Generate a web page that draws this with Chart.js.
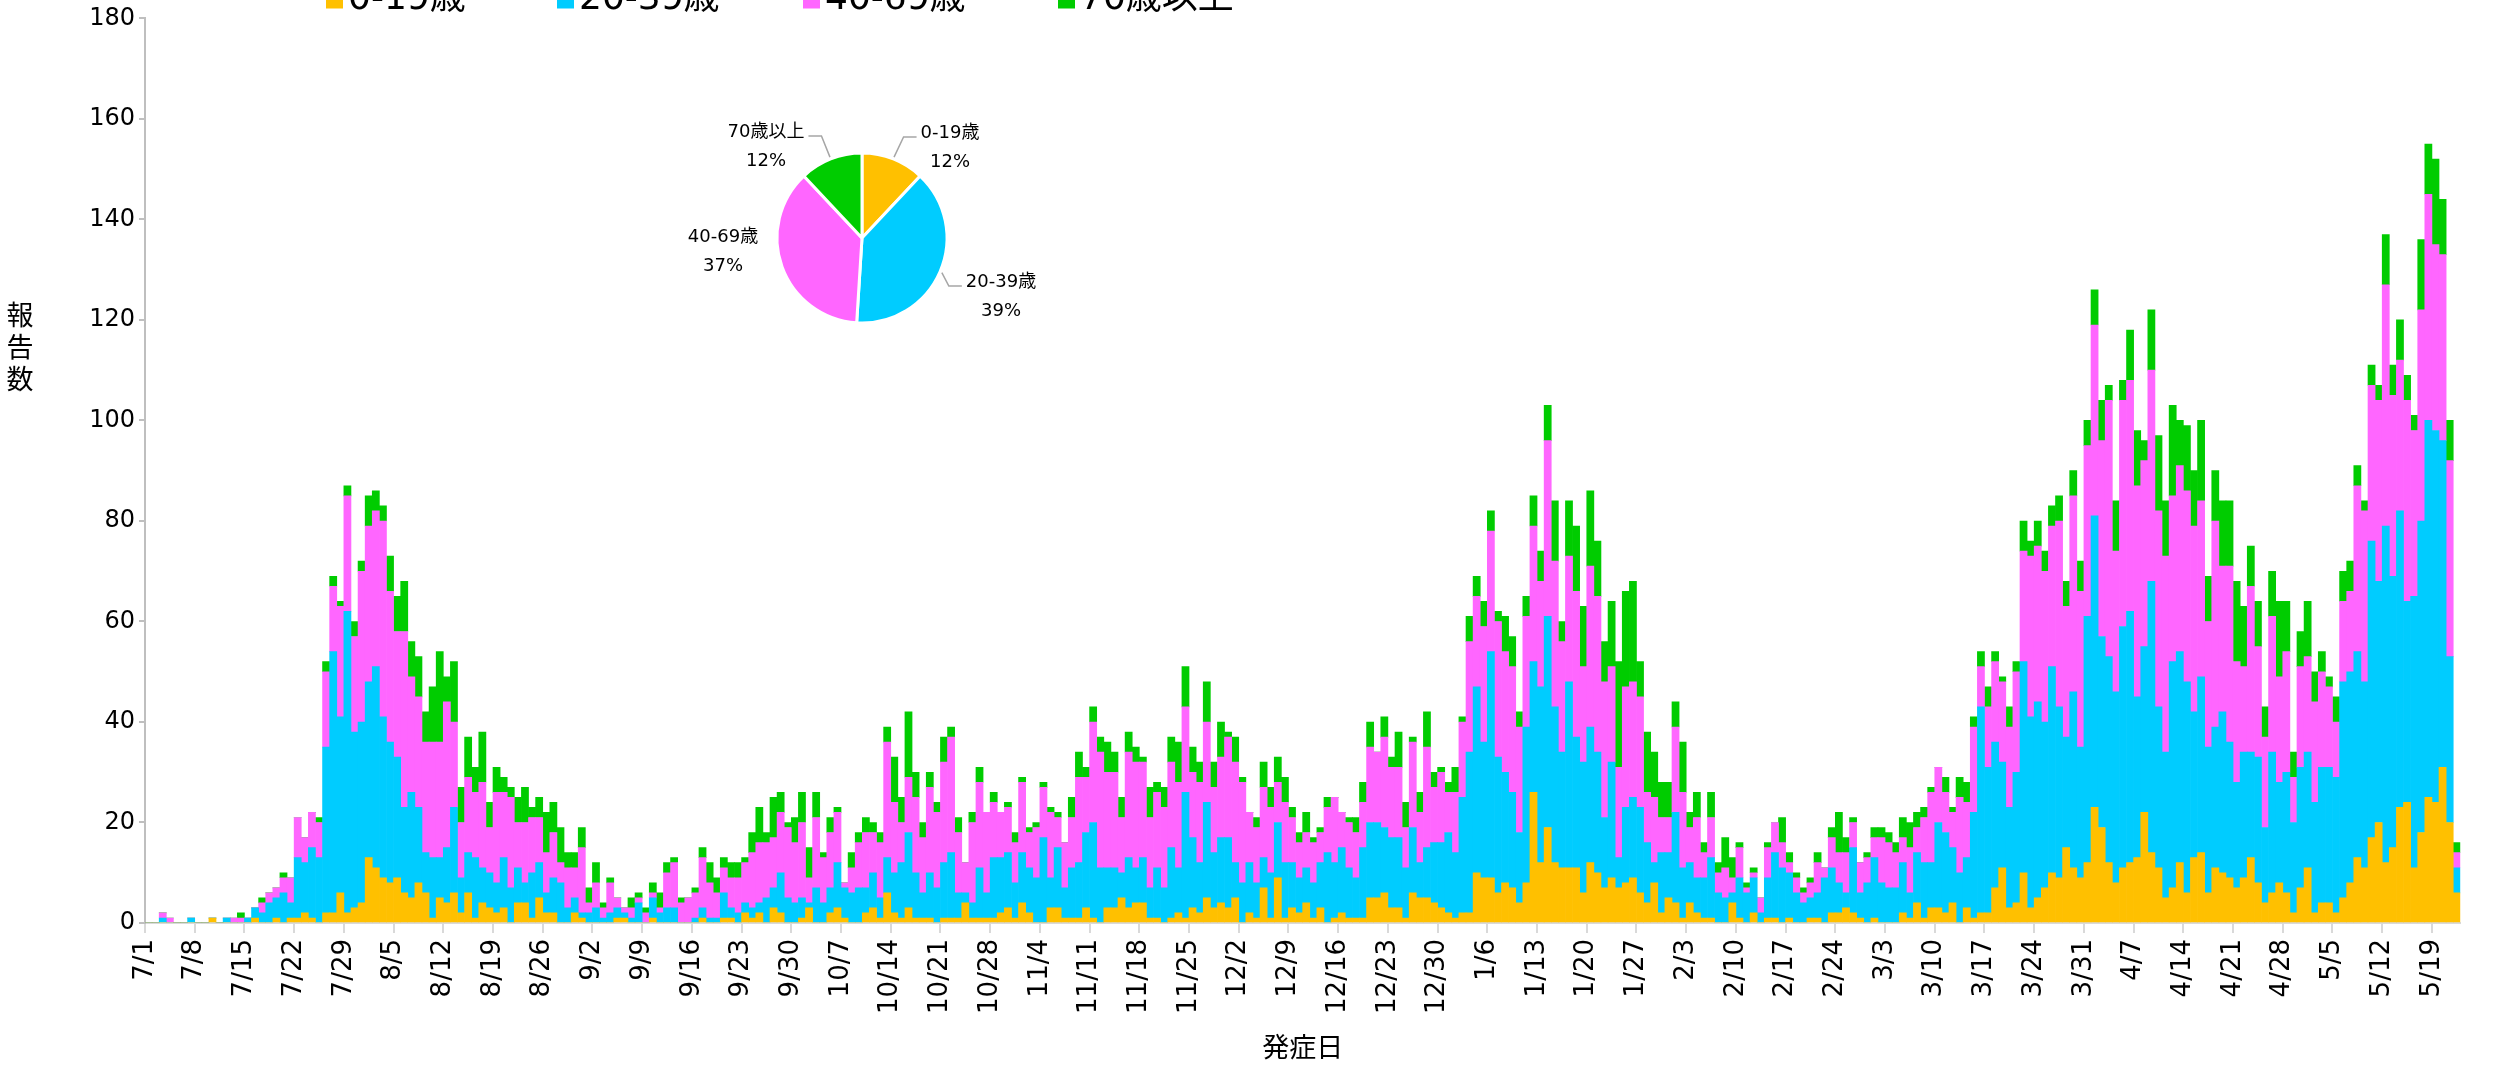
<!DOCTYPE html>
<html lang="ja">
<head>
<meta charset="utf-8">
<title>発症日別 報告数</title>
<script src="https://cdn.jsdelivr.net/npm/chart.js"></script>
<style>
  html, body { margin: 0; padding: 0; background: #fff; overflow: hidden; }
  #wrap { position: relative; width: 2494px; height: 1066px; }
  #main { position: absolute; left: 0; top: 0; }
  #pie { position: absolute; left: 652px; top: 108px; }
</style>
</head>
<body>
<div id="wrap">
  <canvas id="main" width="2494" height="1066"></canvas>
  <canvas id="pie" width="420" height="260"></canvas>
</div>
<script>
// categories: one bar per onset day, 7/1 to 5/22
const firstDay = new Date(2020, 6, 1)
const dayCount = 326
const dates = []
for (let i = 0; i < dayCount; i++) {
    const d = new Date(firstDay.getFullYear(), firstDay.getMonth(), firstDay.getDate() + i)
    dates.push((d.getMonth() + 1) + '/' + d.getDate())
}

const ageGroups = ['0-19歳', '20-39歳', '40-69歳', '70歳以上']
const ageColors = ['#FFC000', '#00CCFF', '#FF66FF', '#00CC00']
const pieShares = [12, 39, 37, 12]

const age0_19 = [
  0,0,0,0,0,0,0,0,0,1, 0,0,0,0,0,1,0,0,1,0, 1,1,2,1,0,2,2,6,2,3,
  4,13,11,9,8,9,6,5,8,6, 1,5,4,6,2,6,1,4,3,2, 3,0,4,4,1,5,2,2,0,0,
  2,1,0,0,0,0,1,1,0,0, 0,1,0,0,0,0,0,0,1,0, 0,1,1,0,2,1,2,0,3,2,
  0,0,1,3,0,0,2,3,1,0, 0,2,3,1,6,2,1,3,1,1, 1,0,1,1,1,4,1,1,1,1,
  2,3,1,4,2,0,0,3,3,1, 1,1,3,1,0,3,3,5,3,4, 4,1,1,0,1,2,1,3,2,5,
  3,4,3,5,0,2,1,7,1,9, 1,3,2,4,1,3,0,1,2,1, 1,1,5,5,6,3,3,1,6,5,
  5,4,3,2,1,2,2,10,9,9, 6,8,7,4,8,26,12,19,12,11, 11,11,6,12,10,7,9,7,8,9,
  6,4,8,2,5,4,1,4,2,1, 1,0,0,4,1,0,2,0,1,1, 0,1,0,0,1,1,0,2,2,3,
  2,1,0,1,0,0,0,2,1,4, 1,3,3,2,4,0,3,1,2,2, 7,11,3,4,10,3,5,7,10,9,
  15,11,9,12,23,19,12,8,11,12, 13,22,14,11,5,7,12,6,13,14, 6,11,10,9,7,9,13,8,4,6,
  8,6,2,7,11,2,4,4,2,5, 8,13,11,17,20,12,15,23,24,11, 18,25,24,31,20,6
]
const age20_39 = [
  0,0,1,0,0,0,1,0,0,0, 0,1,0,0,1,2,2,4,4,6, 3,12,10,14,13,33,52,35,60,35,
  36,35,40,32,28,24,17,21,15,8, 12,8,11,17,7,8,12,7,7,6, 10,7,7,4,9,7,4,7,8,3,
  3,1,2,3,1,2,2,1,1,4, 0,4,2,3,3,0,0,1,2,1, 1,5,2,2,2,2,2,5,4,8,
  5,4,4,1,7,4,5,9,6,6, 7,5,7,4,7,8,11,15,9,5, 9,7,11,13,5,2,3,10,5,12,
  11,11,7,10,9,9,17,6,12,6, 10,11,15,19,11,8,8,5,10,7, 9,6,10,7,14,9,25,14,10,19,
  11,13,14,7,8,10,7,6,9,11, 11,9,7,7,7,9,14,11,13,10, 8,14,15,15,13,14,14,10,13,7,
  10,12,13,16,13,23,32,37,27,45, 27,22,19,14,31,26,35,42,31,23, 37,26,26,27,24,14,23,6,15,16,
  17,12,4,12,9,18,10,8,7,8, 12,6,5,2,8,6,7,2,8,13, 11,9,6,4,4,5,9,9,6,3,
  13,5,8,12,8,7,7,10,5,10, 11,9,17,16,11,10,10,21,41,29, 29,21,20,26,42,38,39,33,41,34,
  22,35,26,49,58,38,41,38,48,50, 32,33,54,32,29,45,42,42,29,35, 29,28,32,27,21,25,21,25,15,28,
  20,24,18,24,23,22,27,27,27,43, 42,41,37,59,48,67,54,59,40,54, 62,75,74,65,33,5
]
const age40_69 = [
  0,0,1,1,0,0,0,0,0,0, 0,0,1,1,0,0,2,2,2,3, 5,8,5,7,7,15,13,22,23,19,
  30,31,31,39,30,25,35,23,22,22, 23,23,29,17,11,15,13,17,9,18, 13,18,9,12,11,9,8,9,4,8,
  6,13,2,5,2,6,2,1,2,1, 2,1,1,7,9,4,5,5,10,7, 5,5,6,7,8,11,12,11,10,12,
  14,12,15,5,14,9,11,10,1,5, 9,11,8,11,23,14,8,11,15,11, 17,15,20,23,12,6,16,17,16,11,
  9,9,8,14,7,10,10,13,6,9, 10,17,11,20,23,19,19,11,21,21, 19,14,15,16,17,17,17,13,16,16,
  13,16,20,20,20,10,11,14,13,8, 12,9,7,7,8,6,9,13,7,9, 9,9,15,14,18,14,14,8,17,10,
  20,11,14,8,12,15,22,18,23,24, 27,24,25,21,22,27,21,35,29,22, 25,29,19,32,31,27,19,18,24,23,
  22,10,13,7,7,17,15,7,12,5, 8,4,6,3,6,1,1,3,6,6, 5,2,3,2,3,6,2,6,6,8,
  5,6,5,4,9,9,7,5,9,5, 9,14,11,8,7,15,11,17,8,12, 16,16,16,20,22,32,31,30,28,37,
  26,39,31,34,38,39,51,28,45,46, 42,37,42,39,39,33,37,38,37,35, 25,41,29,35,24,17,33,22,18,27,
  21,24,9,20,19,20,19,16,11,16, 16,33,34,31,36,48,36,30,40,33, 42,45,37,37,39,3
]
const age70plus = [
  0,0,0,0,0,0,0,0,0,0, 0,0,0,1,0,0,1,0,0,1, 0,0,0,0,1,2,2,1,2,3,
  2,6,4,3,7,7,10,7,8,6, 11,18,5,12,7,8,5,10,5,5, 3,2,5,7,2,4,8,6,7,3,
  3,4,3,4,1,1,0,0,2,1, 1,2,3,2,1,1,0,1,2,4, 3,2,3,3,1,4,7,2,8,4,
  1,5,6,6,5,1,3,1,0,3, 2,3,2,2,3,9,5,13,5,3, 3,2,5,2,3,0,2,3,0,2,
  0,1,2,1,1,1,1,1,1,0, 4,5,2,3,3,6,4,4,4,3, 1,6,2,4,5,8,8,5,4,8,
  5,7,1,5,1,0,2,5,4,5, 5,2,2,4,1,1,2,0,0,1, 3,4,5,0,4,2,7,5,1,4,
  7,3,1,2,5,1,5,4,5,4, 2,7,6,3,4,6,6,7,12,4, 11,13,12,15,11,8,13,21,19,20,
  7,12,9,7,7,5,10,3,5,2, 5,2,6,4,1,1,1,0,1,0, 5,2,1,1,1,2,0,2,8,3,
  1,0,1,2,2,2,2,4,5,3, 2,1,0,3,1,4,4,2,3,4, 2,1,4,2,6,3,5,4,4,5,
  5,5,6,5,7,8,3,10,4,10, 11,4,12,15,11,18,9,13,11,16, 9,10,13,13,16,12,8,9,6,9,
  15,10,5,7,11,6,4,2,5,6, 6,4,2,4,3,10,6,8,5,3, 14,10,17,11,8,2
]

const fontFamily = '"DejaVu Sans", "Noto Sans CJK JP", sans-serif'

// legend sits at the very top edge and is cut off, like the original
const topLegend = {
    id: 'topLegend',
    afterDraw(chart, args, opts) {
        const ctx = chart.ctx
        ctx.save()
        ctx.font = opts.size + 'px ' + fontFamily
        ctx.textBaseline = 'middle'
        ctx.textAlign = 'left'
        chart.data.datasets.forEach(function(ds, i) {
            ctx.fillStyle = ds.backgroundColor
            ctx.fillRect(opts.x[i], opts.y - opts.box / 2, opts.box, opts.box)
            ctx.fillStyle = '#000'
            ctx.fillText(ds.label, opts.x[i] + opts.box + 5, opts.y)
        })
        ctx.restore()
    }
}

// y title written as stacked characters
const stackedTitle = {
    id: 'stackedTitle',
    afterDraw(chart, args, opts) {
        const ctx = chart.ctx
        ctx.save()
        ctx.font = opts.size + 'px ' + fontFamily
        ctx.fillStyle = '#000'
        ctx.textAlign = 'center'
        ctx.textBaseline = 'middle'
        Array.from(opts.text).forEach(function(ch, i) {
            ctx.fillText(ch, opts.x, opts.y + i * opts.step)
        })
        ctx.restore()
    }
}

const seriesList = [age0_19, age20_39, age40_69, age70plus]

new Chart(document.getElementById('main'), {
    type: 'bar',
    data: {
        labels: dates,
        datasets: seriesList.map(function(s, i) {
            return {
                label: ageGroups[i],
                data: s,
                backgroundColor: ageColors[i],
                borderWidth: 0,
                barPercentage: 1,
                categoryPercentage: 1
            }
        })
    },
    options: {
        responsive: false,
        animation: false,
        devicePixelRatio: 1,
        layout: { padding: { top: 16, right: 10, left: 0, bottom: 0 } },
        plugins: {
            legend: { display: false },
            tooltip: { enabled: false },
            topLegend: { x: [326, 557, 803, 1058], y: 0, box: 17, size: 36 },
            stackedTitle: { text: '報告数', x: 20, y: 318, step: 32, size: 27 }
        },
        scales: {
            x: {
                stacked: true,
                offset: true,
                grid: {
                    offset: true,
                    drawOnChartArea: false,
                    drawTicks: true,
                    tickLength: 10,
                    lineWidth: 2,
                    color: function(c) { return c.index % 7 === 0 ? '#d9d9d9' : 'rgba(0,0,0,0)' }
                },
                border: { display: true, color: '#d9d9d9', width: 2 },
                ticks: {
                    autoSkip: false,
                    minRotation: 90,
                    maxRotation: 90,
                    padding: 6,
                    labelOffset: -3.6,
                    color: '#000',
                    font: { family: fontFamily, size: 26 },
                    callback: function(v, i) { return i % 7 === 0 ? this.getLabelForValue(v) : '' }
                },
                title: { display: true, text: '発症日', color: '#000', font: { family: fontFamily, size: 27 }, padding: 0 },
                afterFit: function(s) { s.height = 143 }
            },
            y: {
                stacked: true,
                min: 0,
                max: 180,
                ticks: { stepSize: 20, padding: 4, color: '#000', font: { family: fontFamily, size: 24 } },
                grid: { drawOnChartArea: false, drawTicks: true, tickLength: 6, color: '#bfbfbf', lineWidth: 2 },
                border: { display: true, color: '#bfbfbf', width: 2 },
                afterFit: function(s) { s.width = 145 }
            }
        }
    },
    plugins: [topLegend, stackedTitle]
})

// labels of the pie, with leader lines pointing at the middle of each slice
const pieLabels = {
    id: 'pieLabels',
    afterDraw(chart, args, opts) {
        const ctx = chart.ctx
        const meta = chart.getDatasetMeta(0)
        const values = chart.data.datasets[0].data
        ctx.save()
        ctx.font = opts.size + 'px ' + fontFamily
        ctx.textAlign = 'center'
        ctx.textBaseline = 'middle'
        ctx.strokeStyle = '#a6a6a6'
        ctx.lineWidth = 1.5
        meta.data.forEach(function(arc, i) {
            const p = arc.getProps(['x', 'y', 'startAngle', 'endAngle', 'outerRadius'], true)
            const mid = (p.startAngle + p.endAngle) / 2
            const tx = p.x + opts.offsets[i][0]
            const ty = p.y + opts.offsets[i][1]
            ctx.fillStyle = '#000'
            ctx.fillText(chart.data.labels[i], tx, ty)
            ctx.fillText(values[i] + '%', tx, ty + opts.lineGap)
            if (opts.leaders[i]) {
                const side = opts.offsets[i][0] > 0 ? -1 : 1
                const w = ctx.measureText(chart.data.labels[i]).width
                const x0 = tx + side * (w / 2 + 4)
                const x1 = x0 + side * 13
                const ax = p.x + Math.cos(mid) * (p.outerRadius + 2)
                const ay = p.y + Math.sin(mid) * (p.outerRadius + 2)
                ctx.beginPath()
                ctx.moveTo(x0, ty + 4)
                ctx.lineTo(x1, ty + 4)
                ctx.lineTo(ax, ay)
                ctx.stroke()
            }
        })
        ctx.restore()
    }
}

new Chart(document.getElementById('pie'), {
    type: 'pie',
    data: {
        labels: ageGroups,
        datasets: [{
            data: pieShares,
            backgroundColor: ageColors,
            borderColor: '#fff',
            borderWidth: 3,
            radius: 85
        }]
    },
    options: {
        responsive: false,
        animation: false,
        devicePixelRatio: 1,
        plugins: {
            legend: { display: false },
            tooltip: { enabled: false },
            pieLabels: {
                size: 18,
                lineGap: 29,
                offsets: [[88, -105], [139, 44], [-139, -1], [-96, -106]],
                leaders: [true, true, false, true]
            }
        }
    },
    plugins: [pieLabels]
})
</script>
</body>
</html>
